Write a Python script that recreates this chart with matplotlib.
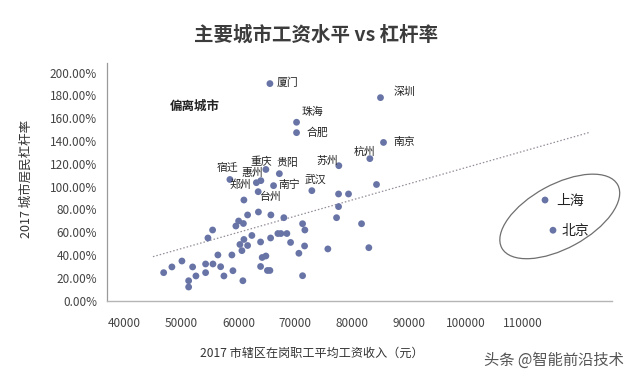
import matplotlib
matplotlib.use("Agg")
import matplotlib.pyplot as plt
from matplotlib.patches import Ellipse
from matplotlib.ticker import FuncFormatter
from matplotlib.transforms import ScaledTranslation

plt.rcParams["font.family"] = ["Noto Sans CJK SC", "DejaVu Sans"]

# ── data ─────────────────────────────────────────────────────────────────────
# unlabelled cities: average wage (yuan) / household leverage (fraction)
wage = [46850, 48300, 50060, 51940, 51240, 51240, 52520, 54220, 54220, 54630,
        55450, 55510, 56380, 56860, 57440, 58840, 59020, 59540, 60020, 60250,
        60600, 60770, 60860, 60950, 60950, 61600, 61600, 62350, 63500, 63880,
        63880, 64160, 64810, 65080, 65520, 65690, 65640, 66920, 67450, 68500,
        67970, 69150, 70610, 71260, 71660, 71610, 71260, 77580, 79330, 77580,
        77230, 81620, 75700, 82900, 84250]
leverage = [0.246, 0.296, 0.348, 0.296, 0.175, 0.120, 0.217, 0.322, 0.246, 0.550,
            0.620, 0.322, 0.401, 0.298, 0.217, 0.401, 0.263, 0.655, 0.699, 0.493,
            0.439, 0.175, 0.677, 0.883, 0.537, 0.484, 0.752, 0.572, 0.778, 0.300,
            0.515, 0.379, 0.392, 0.265, 0.265, 0.752, 0.550, 0.589, 0.589, 0.589,
            0.728, 0.511, 0.416, 0.675, 0.620, 0.480, 0.219, 0.936, 0.936, 0.825,
            0.728, 0.675, 0.454, 0.465, 1.019]

# labelled cities
city_names = ["厦门", "深圳", "珠海", "合肥", "南京", "杭州", "苏州", "武汉",
              "贵阳", "重庆", "宿迁", "惠州", "郑州", "南宁", "台州", "上海", "北京"]
city_wage = [65520, 84950, 70200, 70200, 85480, 83080, 77630, 72890,
             67180, 64810, 58490, 63930, 63140, 66160, 63460, 113860, 115260]
city_leverage = [1.904, 1.781, 1.565, 1.474, 1.388, 1.246, 1.184, 0.965,
                 1.114, 1.151, 1.063, 1.053, 1.035, 1.009, 0.956, 0.883, 0.618]

# dotted trend line end points
trend_x = [44970, 121730]
trend_y = [0.386, 1.477]

x_ticks = [40000, 50000, 60000, 70000, 80000, 90000, 100000, 110000]
y_ticks = [0.0, 0.2, 0.4, 0.6, 0.8, 1.0, 1.2, 1.4, 1.6, 1.8, 2.0]

# label placement: (dx, dy in points, ha, va, fontsize)
label_style = {
    "厦门": (4.5, 0.5, "left", "center", 7.8),
    "深圳": (9.5, 4.5, "left", "center", 7.8),
    "珠海": (3.5, 7.5, "left", "center", 7.8),
    "合肥": (7, 0, "left", "center", 7.8),
    "南京": (7, 0, "left", "center", 7.8),
    "杭州": (-4, 5, "center", "center", 7.8),
    "苏州": (-0.5, 3.5, "right", "center", 7.8),
    "武汉": (2.5, 8.2, "center", "center", 7.8),
    "贵阳": (5.5, 8, "center", "center", 7.8),
    "重庆": (-3.5, 5.7, "center", "center", 7.8),
    "宿迁": (-2, 8.5, "center", "center", 7.8),
    "惠州": (-6.5, 5.3, "center", "center", 7.8),
    "郑州": (-3.5, -1.7, "right", "center", 7.8),
    "南宁": (3.3, 0.5, "left", "center", 7.8),
    "台州": (1.2, -3.6, "left", "center", 7.8),
    "上海": (8, -0.5, "left", "center", 10),
    "北京": (6, -0.3, "left", "center", 10),
}

DOT = "#6874a6"
GREY = "#444444"

fig = plt.figure(figsize=(6.4, 3.83), dpi=100)
ax = fig.add_axes([0.1667, 0.2149, 0.7893, 0.6198])

ax.scatter(wage, leverage, s=24, color=DOT, edgecolors="none", zorder=3)
ax.scatter(city_wage, city_leverage, s=24, color=DOT, edgecolors="none", zorder=3)
ax.plot(trend_x, trend_y, color="#958d99", lw=0.9, ls=(0, (1.2, 1.6)), zorder=2)

for name, x, y in zip(city_names, city_wage, city_leverage):
    dx, dy, ha, va, fs = label_style[name]
    ax.annotate(name, (x, y), xytext=(dx, dy), textcoords="offset points",
                ha=ha, va=va, fontsize=fs, color="#222222")

# highlight ellipse around Shanghai / Beijing (size in inches)
ell = Ellipse((0, 0), 1.32, 0.64, angle=28.6, fill=False, edgecolor="#6f6f6f", lw=0.9,
              transform=fig.dpi_scale_trans + ScaledTranslation(116450, 0.739, ax.transData),
              clip_on=False)
ax.add_patch(ell)

ax.set_xlim(36840, 125600)
ax.set_ylim(0, 2.082)
ax.set_xticks(x_ticks)
ax.set_yticks(y_ticks)
ax.yaxis.set_major_formatter(FuncFormatter(lambda v, _: f"{v * 100:.2f}%"))
ax.tick_params(length=0, labelsize=8.5, colors=GREY)
ax.tick_params(axis="y", pad=7)
ax.tick_params(axis="x", pad=12)

for side in ("top", "right"):
    ax.spines[side].set_visible(False)
ax.spines["left"].set_color("#9a9a9a")
ax.spines["bottom"].set_color("#b5b5b5")
ax.spines["left"].set_linewidth(0.9)
ax.spines["bottom"].set_linewidth(1.0)

fig.text(0.494, 1 - 35 / 383, "主要城市工资水平 vs 杠杆率", ha="center", va="center",
         fontsize=14, fontweight="bold", color="#3c3c3c")
fig.text(0.304, 1 - 106.7 / 383, "偏离城市", ha="center", va="center",
         fontsize=9, fontweight="bold", color="#222222")
fig.text(26 / 640, 1 - 179 / 383, "2017 城市居民杠杆率", rotation=90,
         ha="center", va="center", fontsize=9, color="#333333")
fig.text(312 / 640, 1 - 353 / 383, "2017 市辖区在岗职工平均工资收入（元）",
         ha="center", va="center", fontsize=8.7, color="#333333")
fig.text(554 / 640, 1 - 360 / 383, "头条 @智能前沿技术", ha="center", va="center",
         fontsize=11, color="#555555")

fig.savefig("out.png", dpi=100)
